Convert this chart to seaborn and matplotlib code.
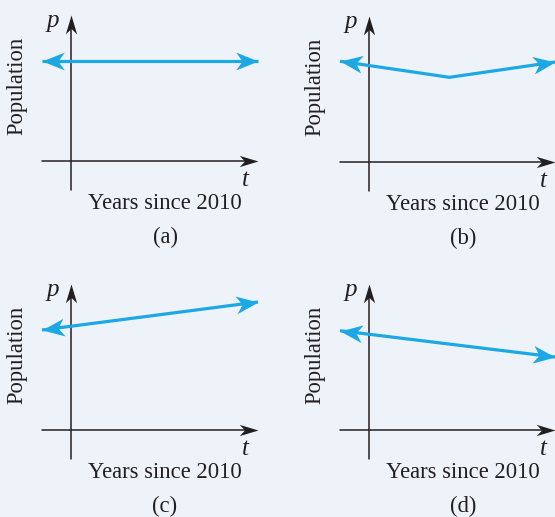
import numpy as np
import matplotlib
matplotlib.use("Agg")
import matplotlib.pyplot as plt
from matplotlib.path import Path
from matplotlib.markers import MarkerStyle
from matplotlib.transforms import Affine2D
import seaborn as sns

# ---- data (t = years since 2010, p = population, arbitrary units) ----
panel_labels = ["(a)", "(b)", "(c)", "(d)"]
t_a = [-1.55, 10.0]
p_a = [6.85, 6.85]
t_b = [-1.55, 4.3, 9.95]
p_b = [6.9, 5.8, 6.85]
t_c = [-1.55, 10.0]
p_c = [6.85, 8.77]
t_d = [-1.55, 9.95]
p_d = [6.8, 5.0]
series_t = [t_a, t_b, t_c, t_d]
series_p = [p_a, p_b, p_c, p_d]
x_label = "Years since 2010"
y_label = "Population"
t_sym = "t"
p_sym = "p"

sns.set_theme(style="white")
plt.rcParams["font.family"] = ["Liberation Serif", "DejaVu Serif"]

BLUE = "#1ba8e4"
BG = "#eef3fa"
INK = "#231f20"
W, H = 555, 517
SX, SY = 18.7, 14.6
XLIM = (-2.0, 10.3)
YLIM = (-2.3, 10.4)
origins = [(71, 161), (369, 162), (71, 430), (369, 430)]
x_right = [10.0, 9.95, 10.0, 9.95]

fig = plt.figure(figsize=(W / 100, H / 100), dpi=100)
fig.patch.set_facecolor(BG)


def stealth(hw):
    return Path([(0, 0), (-1, hw), (-0.72, 0), (-1, -hw), (0, 0)],
                [Path.MOVETO, Path.LINETO, Path.LINETO, Path.LINETO, Path.CLOSEPOLY])


def arrow_head(ax, x0, y0, x1, y1, color, size, hw):
    d0 = ax.transData.transform((x0, y0))
    d1 = ax.transData.transform((x1, y1))
    ang = np.degrees(np.arctan2(d1[1] - d0[1], d1[0] - d0[0]))
    m = MarkerStyle(stealth(hw), transform=Affine2D().rotate_deg(ang))
    ax.plot([x1], [y1], marker=m, markersize=size, color=color,
            markeredgewidth=0, linestyle="none", clip_on=False, zorder=5)


for i, (ox, oy) in enumerate(origins):
    left = ox + XLIM[0] * SX
    bottom_px = oy - YLIM[0] * SY
    width = (XLIM[1] - XLIM[0]) * SX
    height = (YLIM[1] - YLIM[0]) * SY
    ax = fig.add_axes([left / W, (H - bottom_px) / H, width / W, height / H])
    ax.set_xlim(*XLIM)
    ax.set_ylim(*YLIM)
    ax.axis("off")
    ax.patch.set_alpha(0)

    # axes with arrows
    xr = x_right[i]
    ax.plot([-1.55, xr - 0.3], [0, 0], color=INK, lw=1.1, clip_on=False)
    ax.plot([0, 0], [-2.0, 9.6], color=INK, lw=1.1, clip_on=False)
    arrow_head(ax, -1.55, 0, xr, 0, INK, 27, 0.3)
    arrow_head(ax, 0, -2.0, 0, 10.0, INK, 27, 0.3)

    # population line
    t = series_t[i]
    p = series_p[i]
    sns.lineplot(x=t, y=p, ax=ax, color=BLUE, lw=2.3, sort=False,
                 estimator=None, solid_capstyle="butt")
    ax.lines[-1].set_clip_on(False)
    arrow_head(ax, t[1], p[1], t[0], p[0], BLUE, 32, 0.4)
    arrow_head(ax, t[-2], p[-2], t[-1], p[-1], BLUE, 32, 0.4)

    # labels
    ax.text(-0.96, 9.6, p_sym, fontsize=18, style="italic", ha="center", va="center", color=INK)
    ax.text(9.3, -1.3, t_sym, fontsize=18, style="italic", ha="center", va="center", color=INK)
    ax.text(5.03, -2.9, x_label, fontsize=16.3, ha="center", va="center", color=INK)
    ax.text(5.03, -5.25, panel_labels[i], fontsize=16.3, ha="center", va="center", color=INK)
    ax.text(-2.9, 5.15, y_label, fontsize=16.3, rotation=90, ha="center", va="center", color=INK)
    if ax.get_legend():
        ax.get_legend().remove()

fig.savefig("out.png", dpi=100, facecolor=BG)
